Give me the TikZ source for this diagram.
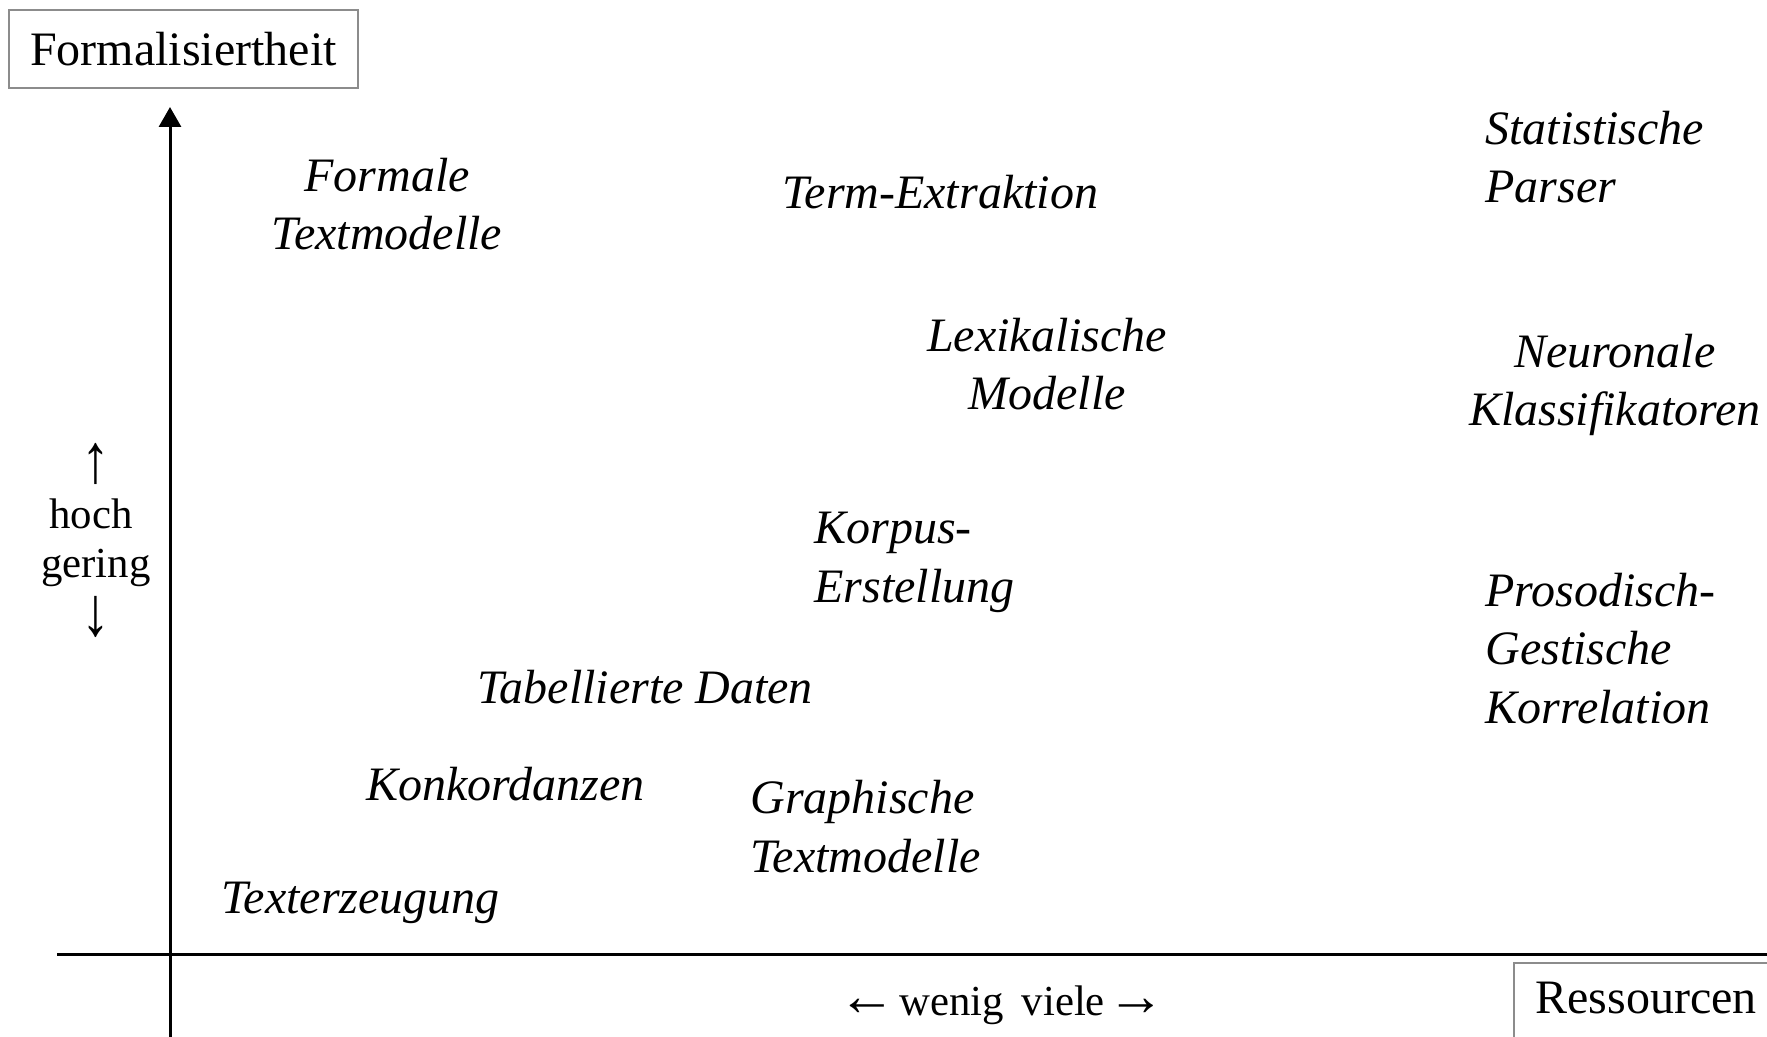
\documentclass[tikz,border=0pt]{standalone}
\usepackage{fontspec}
\setmainfont{Liberation Serif}
\usetikzlibrary{arrows.meta}
\newcommand{\harr}[1]{\scalebox{1.2}{\fontsize{24}{29}\selectfont #1}}
\newcommand{\varr}[1]{\scalebox{1.2}[1.45]{\fontsize{24}{29}\selectfont #1}}
\begin{document}
\begin{tikzpicture}[x=0.5pt,y=-0.5pt,
  lbl/.style={inner sep=0pt, font=\fontsize{24}{29.3}\selectfont},
  scalelbl/.style={inner sep=0pt, font=\fontsize{21.4}{26}\selectfont},
  item/.style={inner sep=0pt, font=\fontsize{24}{29.3}\selectfont\itshape},
  axisbox/.style={draw=black!45, line width=0.6pt},
  axisline/.style={line width=1.5pt, draw=black}]
\useasboundingbox (0,0) rectangle (1767,1037);
\begin{scope}
\clip (0,0) rectangle (1767,1037);
% axes
\coordinate (yb) at (170,1037);
\coordinate (yt) at (170,107);
\coordinate (xl) at (57,954);
\coordinate (xr) at (1767,954);
\draw[axisline] (xl) -- (xr);
\draw[axisline, -{Triangle[length=10pt,width=11pt]}] (yb) -- (yt);
% axis titles
\node[axisbox, lbl, minimum width=174.5pt, minimum height=39pt] (fbox) at (183.5,49) {Formalisiertheit};
\draw[axisbox] (1514,963) rectangle (1790,1060);
\node[lbl, anchor=base west] (res) at (1535,1013) {Ressourcen};
\end{scope}
% axis scales
\node[scalelbl] (up) at (96,464) {\varr{↑}};
\node[scalelbl, anchor=base] (hoch) at (91,528) {hoch};
\node[scalelbl, anchor=base] (gering) at (96,577) {gering};
\node[scalelbl] (down) at (96,617) {\varr{↓}};
\node[scalelbl, anchor=base] (wv) at (1002,1015) {\harr{←}\hspace{1.5pt}wenig\hspace{9pt}viele\hspace{1.5pt}\harr{→}};
% items (anchor = baseline of last line)
\node[item, anchor=base, align=center] (formal) at (387,250) {Formale\\Textmodelle};
\node[item, anchor=base west] (term) at (782,208.5) {Term-Extraktion};
\node[item, anchor=base west, align=left] (stat) at (1485,203) {Statistische\\Parser};
\node[item, anchor=base, align=center] (lex) at (1047,410) {Lexikalische\\Modelle};
\node[item, anchor=base, align=center] (neur) at (1615,426) {Neuronale\\Klassifikatoren};
\node[item, anchor=base west, align=left] (korp) at (814,602) {Korpus-\\Erstellung};
\node[item, anchor=base west, align=left] (pros) at (1485,723.5) {Prosodisch-\\Gestische\\Korrelation};
\node[item, anchor=base west] (tab) at (477,703) {Tabellierte Daten};
\node[item, anchor=base west] (konk) at (366,800) {Konkordanzen};
\node[item, anchor=base west, align=left] (graph) at (750,872) {Graphische\\Textmodelle};
\node[item, anchor=base west] (texterz) at (221,913) {Texterzeugung};
\end{tikzpicture}
\end{document}
